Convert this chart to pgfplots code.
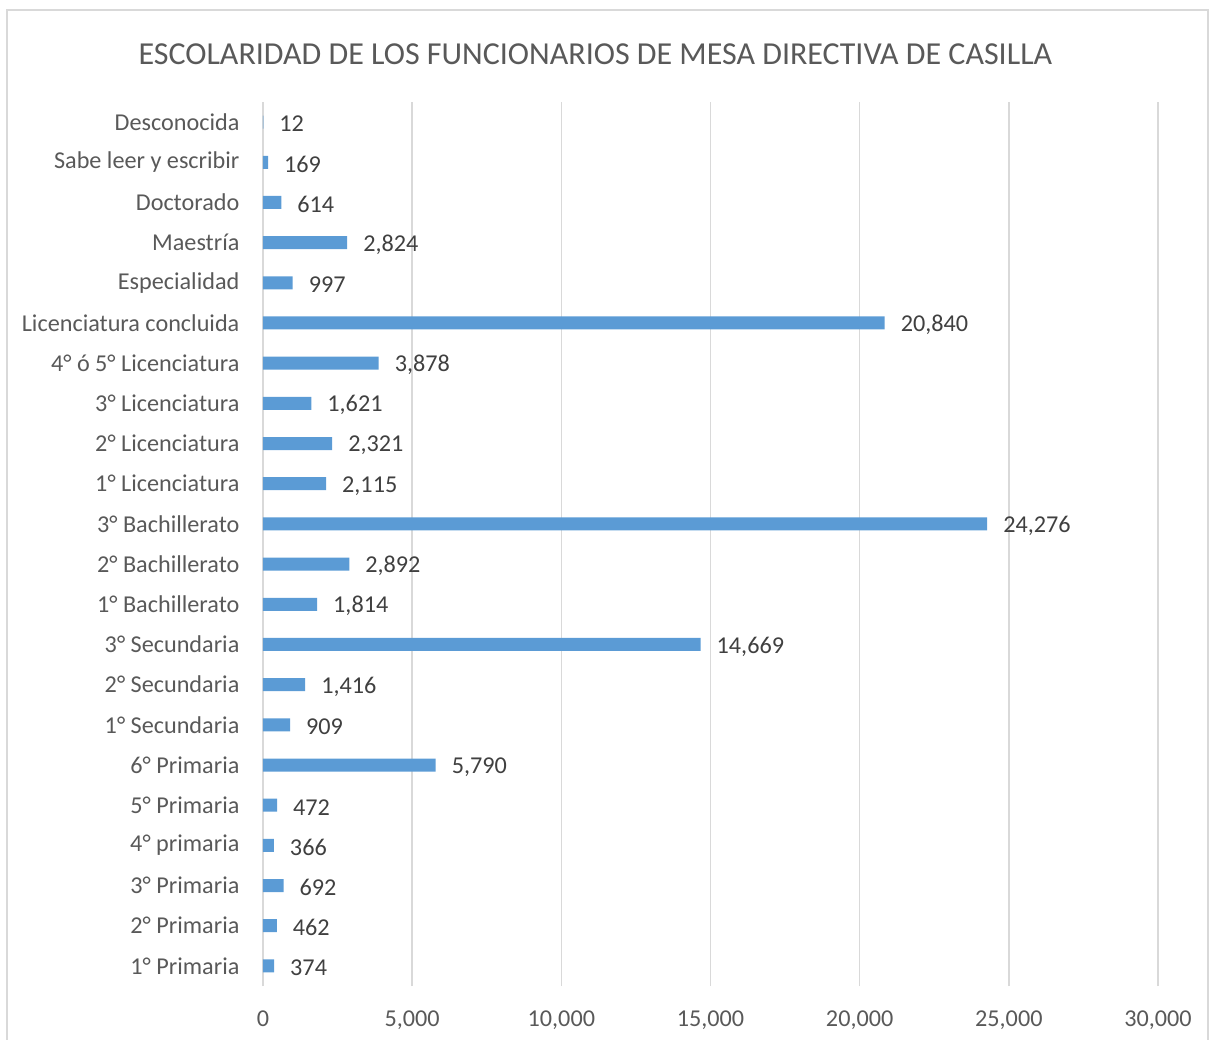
\documentclass[border=0pt]{standalone}
\usepackage{pgfplots}
\pgfplotsset{compat=1.18}
\usepackage{fontspec}
\setmainfont{Carlito}
\usetikzlibrary{calc}
\definecolor{barblue}{HTML}{5B9BD5}
\definecolor{gridgray}{HTML}{D9D9D9}
\definecolor{txtgray}{HTML}{595959}
\definecolor{lblgray}{HTML}{404040}
\begin{document}
\begin{tikzpicture}
\begin{axis}[
  name=ax,
  scale only axis,
  width=447.5pt, height=442pt,
  xbar, bar width=6.5pt,
  xmin=0, xmax=30000,
  ymin=-0.5, ymax=21.5,
  xtick={0,5000,10000,15000,20000,25000,30000},
  ytick={0,...,21},
  yticklabels={1° Primaria,2° Primaria,3° Primaria,4° primaria,5° Primaria,6° Primaria,1° Secundaria,2° Secundaria,3° Secundaria,1° Bachillerato,2° Bachillerato,3° Bachillerato,1° Licenciatura,2° Licenciatura,3° Licenciatura,4° ó 5° Licenciatura,Licenciatura concluida,Especialidad,Maestría,Doctorado,Sabe leer y escribir,Desconocida},
  xmajorgrids, grid style={gridgray, line width=0.8pt},
  axis line style={draw=none},
  major tick style={draw=none},
  tick label style={font=\fontsize{12.1}{14}\selectfont, text=txtgray},
  xticklabel style={yshift=-9pt},
  yticklabel style={xshift=-4pt},
  /pgf/number format/assume math mode=true,
  /pgf/number format/.cd, 1000 sep={,}, fixed, precision=0,
  /pgfplots/.cd,
  scaled x ticks=false,
  nodes near coords,
  point meta=x,
  every node near coord/.append style={font=\fontsize{12.1}{14}\selectfont, text=lblgray, anchor=west, xshift=4.5pt, yshift=-1pt},
  clip=false,
]
\addplot[fill=barblue, draw=none] coordinates {
(374,0) (462,1) (692,2) (366,3) (472,4) (5790,5) (909,6) (1416,7) (14669,8) (1814,9) (2892,10) (24276,11) (2115,12) (2321,13) (1621,14) (3878,15) (20840,16) (997,17) (2824,18) (614,19) (169,20) (12,21)
};
\end{axis}
\coordinate (BL) at ($(ax.south west)+(-131.5pt,-26.5pt)$);
\coordinate (TR) at ($(ax.north east)+(25.5pt,51pt)$);
\path[use as bounding box] (BL) rectangle (TR);
\draw[gridgray, line width=0.9pt] ($(BL)+(3.5pt,-2pt)$) -- ($(BL|-TR)+(3.5pt,-5pt)$) -- ($(TR)+(-0.5pt,-5pt)$) -- ($(TR|-BL)+(-0.5pt,-2pt)$);
\node[font=\fontsize{16}{19}\selectfont, text=txtgray] at ($(BL|-TR)!0.5!(TR)+(-4.5pt,-27pt)$) {ESCOLARIDAD DE LOS FUNCIONARIOS DE MESA DIRECTIVA DE CASILLA};
\end{tikzpicture}
\end{document}
